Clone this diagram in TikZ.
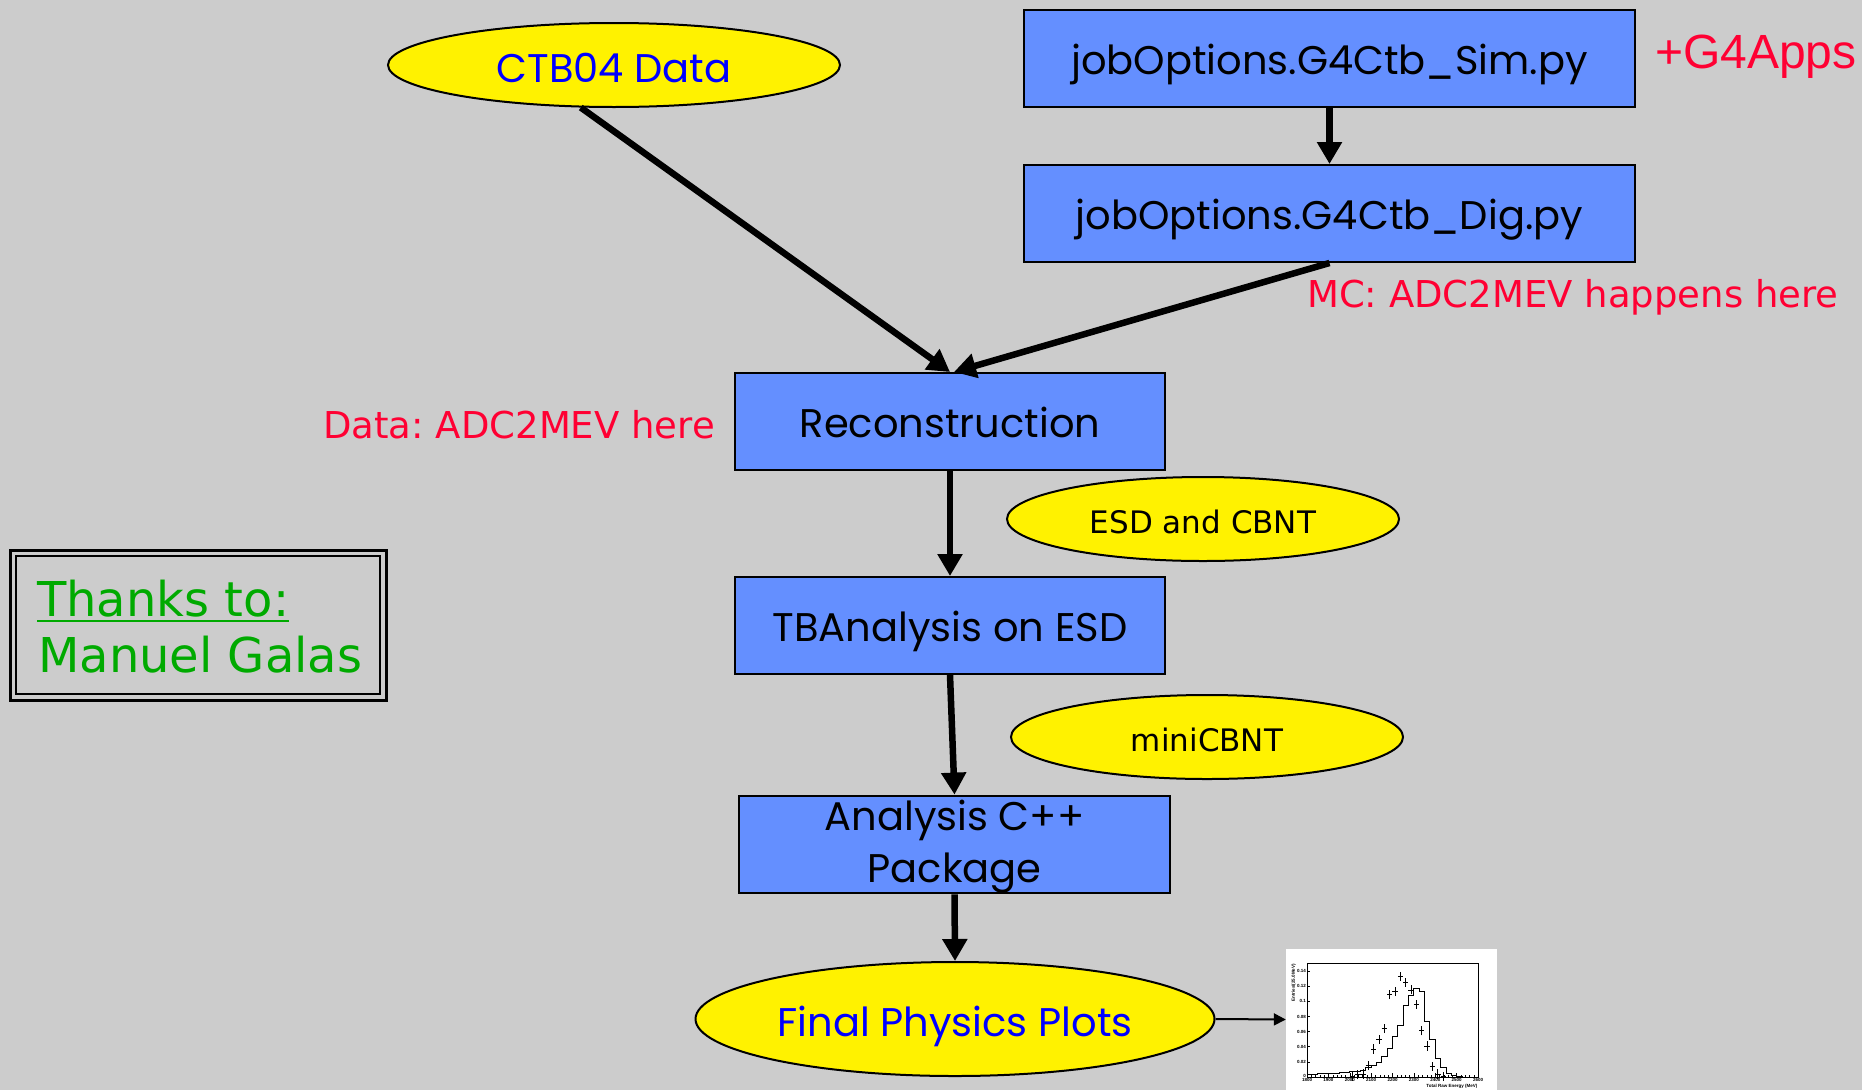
\documentclass[tikz,border=0pt]{standalone}
\usepackage{fontspec}
\setmainfont{DejaVu Sans}
\newfontfamily\comicf{Poppins}
\newfontfamily\arialf{Liberation Sans}
\usetikzlibrary{arrows.meta,shapes.geometric}
\definecolor{bggray}{RGB}{204,204,204}
\definecolor{boxblue}{RGB}{100,143,255}
\definecolor{lblred}{RGB}{255,0,51}
\definecolor{txtblue}{RGB}{0,0,255}
\definecolor{thxgreen}{RGB}{0,170,0}
\frenchspacing
\begin{document}
\begin{tikzpicture}[x=1pt,y=-1pt,
  procbox/.style={draw=black, line width=2pt, fill=boxblue, rectangle,
    minimum width=#1, minimum height=97pt, inner sep=0pt,
    font=\comicf\fontsize{40}{52}\selectfont, align=center},
  oneline/.style={text height=42pt, text depth=10pt},
  yellipse/.style={draw=black, line width=2pt, fill=yellow, ellipse, inner sep=0pt},
  bigtxt/.style={font=\comicf\fontsize{40}{52}\selectfont, text=txtblue, text height=34pt, text depth=0pt},
  smalltxt/.style={font=\fontsize{31}{36}\selectfont, text=black, text height=28pt, text depth=0pt},
  redlbl/.style={font=\fontsize{37}{44}\selectfont, text=lblred, inner sep=0pt},
  flow/.style={line width=6.5pt, -{Triangle[width=24pt,length=22pt]}},
  thinflow/.style={line width=2pt, -{Triangle[width=12pt,length=12pt]}},
  ticklbl/.style={font=\arialf\bfseries\fontsize{4.5}{5}\selectfont, inner sep=0.5pt}
]
\fill[bggray] (0,0) rectangle (1862,1090);
\useasboundingbox (0,0) rectangle (1862,1090);

% nodes
\node[yellipse, minimum width=452pt, minimum height=84pt, bigtxt] (ctb) at (614,65) {CTB04 Data};
\node[procbox=611pt, oneline] (sim) at (1329.5,58) {jobOptions.G4Ctb\_Sim.py};
\node[procbox=611pt, oneline] (dig) at (1329.5,213.5) {jobOptions.G4Ctb\_Dig.py};
\node[procbox=430pt, oneline] (reco) at (950,421.5) {Reconstruction};
\node[yellipse, minimum width=392pt, minimum height=84pt, smalltxt] (esd) at (1203,519) {ESD and CBNT};
\node[procbox=430pt, oneline] (tba) at (950,625.5) {TBAnalysis on ESD};
\node[yellipse, minimum width=392pt, minimum height=84pt, smalltxt] (mini) at (1207,737) {miniCBNT};
\node[procbox=431pt] (ana) at (954.5,844.5) {\rule{0pt}{35pt}Analysis C++\\Package};
\node[yellipse, minimum width=519pt, minimum height=114pt, bigtxt] (final) at (955,1019) {Final Physics Plots};

% labels
\node[font=\arialf\fontsize{48}{56}\selectfont, text=lblred, anchor=west, inner sep=0pt] (g4apps) at (1655,57) {+G4Apps};
\node[redlbl, anchor=west] (mclbl) at (1307,297) {MC: ADC2MEV happens here};
\node[redlbl, anchor=east] (datalbl) at (715,425) {Data: ADC2MEV here};

% thanks box
\draw[line width=3pt] (10,550) rectangle (386,700);
\draw[line width=1.8pt] (16,556) rectangle (380,694);
\node[font=\fontsize{48}{56}\selectfont, text=thxgreen, anchor=base west, inner sep=0pt] (thx1) at (37,616) {Thanks to:};
\node[font=\fontsize{48}{56}\selectfont, text=thxgreen, anchor=base west, inner sep=0pt] (thx2) at (38,672) {Manuel Galas};
\draw[thxgreen, line width=2.5pt] ([yshift=-5pt]thx1.base west) -- ([yshift=-5pt]thx1.base east);

% connectors
\draw[flow] (sim.south) -- (dig.north);
\draw[flow] (ctb.232.7) -- (reco.north);
\draw[flow] (dig.south) -- ([xshift=4pt]reco.north);
\draw[flow] (reco.south) -- (tba.north);
\draw[flow] (tba.south) -- (ana.north);
\draw[flow] (ana.south) -- (final.north);

% plot picture
\node[fill=white, minimum width=211pt, minimum height=141pt, inner sep=0pt] (plot) at (1391.5,1019.5) {};
\draw[thinflow] (final.east) -- (plot.west);

\begin{scope}[shift={(1307pt,-1077pt)}, x=0.21375pt, y=757pt]
  \draw[line width=0.7pt] (0,0) rectangle (800,0.1506);
  \foreach \e in {0,100,...,800} {
    \draw[line width=0.5pt] (\e,0) -- (\e,0.005);
    \pgfmathtruncatemacro{\lab}{\e+1800}
    \node[ticklbl, anchor=north] (xl\e) at (\e,-0.001) {\lab};
  }
  \foreach \e in {20,40,...,780} {\draw[line width=0.3pt] (\e,0) -- (\e,0.0025);}
  \foreach \v/\t in {0.02/0.02,0.04/0.04,0.06/0.06,0.08/0.08,0.1/0.1,0.12/0.12,0.14/0.14} {
    \draw[line width=0.5pt] (0,\v) -- (14,\v);
    \node[ticklbl, anchor=east] (yl\t) at (-2,\v) {\t};
  }
  \node[ticklbl, anchor=east] (yl0) at (-2,0.002) {0};
  \node[ticklbl, anchor=east, rotate=90] (ytitle) at (-62,0.15) {Entries/(25.0MeV)};
  \node[ticklbl, anchor=north east] (xtitle) at (800,-0.0085) {Total Raw Energy (MeV)};
  % histogram
  \draw[line width=0.9pt] plot[const plot] coordinates {
    (0,0.004) (50,0.0045) (100,0.005) (150,0.0055) (200,0.007) (225,0.008)
    (250,0.009) (275,0.012) (300,0.015) (325,0.019) (350,0.027) (375,0.038)
    (400,0.053) (425,0.068) (450,0.094) (475,0.108) (500,0.117) (525,0.113)
    (550,0.073) (575,0.049) (600,0.024) (625,0.013) (650,0.005) (675,0.002)
    (700,0.001) (725,0.0) (800,0.0)};
  % data points
  \foreach \e/\v in {212/0.001,237/0.003,262/0.004,287/0.015,312/0.037,337/0.050,362/0.064,387/0.109,412/0.113,437/0.133,462/0.125,487/0.115,512/0.096,537/0.061,562/0.041,587/0.014,612/0.004,637/0.001} {
    \draw[line width=0.7pt] (\e-12.5,\v) -- (\e+12.5,\v) (\e,\v-0.006) -- (\e,\v+0.006);
  }
\end{scope}
\end{tikzpicture}
\end{document}
